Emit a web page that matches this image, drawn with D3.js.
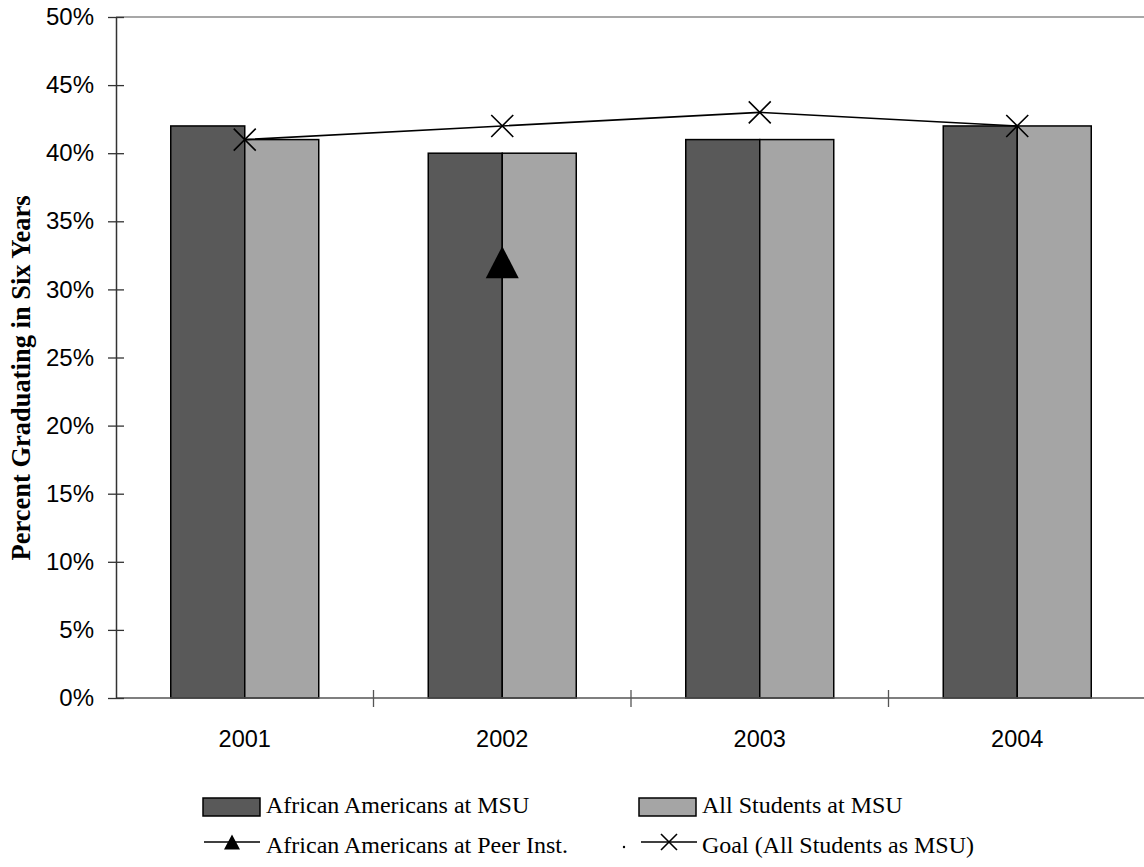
<!DOCTYPE html>
<html>
<head>
<meta charset="utf-8">
<script src="https://cdn.jsdelivr.net/npm/d3@7"></script>
<style>
  html, body { margin: 0; padding: 0; background: #fff; }
  svg { display: block; }
</style>
</head>
<body>
<svg id="chart" width="1144" height="867"></svg>
<script>
// Six-year graduation rates by entering cohort year
const years = ["2001", "2002", "2003", "2004"];
const africanAmericansMSU = [42, 40, 41, 42];
const allStudentsMSU = [41, 40, 41, 42];
const peerInstitutions = [null, 32, null, null];
const goal = [41, 42, 43, 42];
const yTicks = [0, 5, 10, 15, 20, 25, 30, 35, 40, 45, 50];

const seriesNames = {
  aa: "African Americans at MSU",
  all: "All Students at MSU",
  peer: "African Americans at Peer Inst.",
  goal: "Goal (All Students as MSU)"
};

const svg = d3.select("#chart");
const plotLeft = 116, plotRight = 1146, plotTop = 17, plotBottom = 698;

const x = d3.scaleBand().domain(years).range([plotLeft, plotRight]).padding(0);
const y = d3.scaleLinear().domain([0, 50]).range([plotBottom, plotTop]);
const barW = 74;

const darkFill = "#595959", lightFill = "#a5a5a5";

// top boundary at 50%
svg.append("line")
  .attr("x1", plotLeft).attr("x2", 1144)
  .attr("y1", y(50)).attr("y2", y(50))
  .attr("stroke", "#8a8a8a").attr("stroke-width", 1.5);

// bars
const g = svg.append("g");
years.forEach((yr, i) => {
  const cx = x(yr) + x.bandwidth() / 2;
  g.append("rect")
    .attr("x", cx - barW).attr("y", y(africanAmericansMSU[i]))
    .attr("width", barW).attr("height", y(0) - y(africanAmericansMSU[i]))
    .attr("fill", darkFill).attr("stroke", "#000").attr("stroke-width", 1.5);
  g.append("rect")
    .attr("x", cx).attr("y", y(allStudentsMSU[i]))
    .attr("width", barW).attr("height", y(0) - y(allStudentsMSU[i]))
    .attr("fill", lightFill).attr("stroke", "#000").attr("stroke-width", 1.5);
});

// x axis line and category separators
svg.append("line")
  .attr("x1", plotLeft).attr("x2", 1144)
  .attr("y1", y(0)).attr("y2", y(0))
  .attr("stroke", "#555").attr("stroke-width", 1.5);
years.slice(1).forEach(yr => {
  svg.append("line")
    .attr("x1", x(yr)).attr("x2", x(yr))
    .attr("y1", y(0) - 8).attr("y2", y(0) + 9)
    .attr("stroke", "#555").attr("stroke-width", 1.3);
});
svg.selectAll("text.xl").data(years).enter().append("text")
  .attr("class", "xl")
  .attr("x", d => x(d) + x.bandwidth() / 2)
  .attr("y", 747)
  .attr("text-anchor", "middle")
  .attr("font-family", "Liberation Sans, Arial, sans-serif")
  .attr("font-size", 23.5)
  .attr("fill", "#000")
  .text(d => d);

// y axis
const yAxis = d3.axisLeft(y).tickValues(yTicks)
  .tickFormat(d => d + "%").tickSizeInner(8).tickSizeOuter(0).tickPadding(14);
const ya = svg.append("g").attr("transform", `translate(${plotLeft},0)`).call(yAxis);
ya.select(".domain").attr("stroke", "#333").attr("stroke-width", 1.5);
ya.selectAll(".tick line").attr("x2", 8).attr("x1", -8)
  .attr("stroke", "#333").attr("stroke-width", 1.3);
ya.selectAll(".tick text")
  .attr("x", -22)
  .attr("font-family", "Liberation Sans, Arial, sans-serif")
  .attr("font-size", 24).attr("fill", "#000");

// y axis title
svg.append("text")
  .attr("transform", `translate(30,378) rotate(-90)`)
  .attr("text-anchor", "middle")
  .attr("font-family", "Liberation Serif, Times New Roman, serif")
  .attr("font-weight", "bold")
  .attr("font-size", 26.5)
  .attr("fill", "#000")
  .text("Percent Graduating in Six Years");

// goal line with x markers
const cxOf = yr => x(yr) + x.bandwidth() / 2;
const line = d3.line().defined(d => d.v != null).x(d => cxOf(d.yr)).y(d => y(d.v));
const goalPts = years.map((yr, i) => ({ yr, v: goal[i] }));
svg.append("path").datum(goalPts)
  .attr("d", line).attr("fill", "none")
  .attr("stroke", "#000").attr("stroke-width", 1.6);

function cross(sel, cx, cy, r) {
  sel.append("path")
    .attr("d", `M${cx - r},${cy - r}L${cx + r},${cy + r}M${cx - r},${cy + r}L${cx + r},${cy - r}`)
    .attr("stroke", "#000").attr("stroke-width", 1.6).attr("fill", "none");
}
function triangle(sel, cx, cy, w, h) {
  sel.append("path")
    .attr("d", `M${cx},${cy - h / 2}L${cx + w / 2},${cy + h / 2}L${cx - w / 2},${cy + h / 2}Z`)
    .attr("fill", "#000");
}
goalPts.forEach(p => cross(svg, cxOf(p.yr), y(p.v), 11));

// peer institutions series
const peerPts = years.map((yr, i) => ({ yr, v: peerInstitutions[i] }));
svg.append("path").datum(peerPts)
  .attr("d", line).attr("fill", "none")
  .attr("stroke", "#000").attr("stroke-width", 1.6);
peerPts.filter(p => p.v != null).forEach(p => triangle(svg, cxOf(p.yr), y(p.v), 33, 32));

// legend
const lf = "Liberation Serif, Times New Roman, serif";
const leg = svg.append("g");
leg.append("rect").attr("x", 203).attr("y", 798).attr("width", 57).attr("height", 18)
  .attr("fill", darkFill).attr("stroke", "#000").attr("stroke-width", 1.5);
leg.append("text").attr("x", 266).attr("y", 813).attr("font-family", lf).attr("font-size", 24)
  .text(seriesNames.aa);
leg.append("rect").attr("x", 639).attr("y", 798).attr("width", 57).attr("height", 18)
  .attr("fill", lightFill).attr("stroke", "#000").attr("stroke-width", 1.5);
leg.append("text").attr("x", 702).attr("y", 813).attr("font-family", lf).attr("font-size", 24)
  .text(seriesNames.all);

leg.append("line").attr("x1", 204).attr("x2", 260).attr("y1", 842).attr("y2", 842)
  .attr("stroke", "#000").attr("stroke-width", 1.6);
triangle(leg, 232, 842, 16, 15);
leg.append("text").attr("x", 266).attr("y", 853).attr("font-family", lf).attr("font-size", 24)
  .text(seriesNames.peer);

leg.append("circle").attr("cx", 624).attr("cy", 847).attr("r", 1.2).attr("fill", "#000");
leg.append("line").attr("x1", 641).attr("x2", 697).attr("y1", 842).attr("y2", 842)
  .attr("stroke", "#000").attr("stroke-width", 1.6);
cross(leg, 669, 842, 8);
leg.append("text").attr("x", 702).attr("y", 853).attr("font-family", lf).attr("font-size", 24)
  .text(seriesNames.goal);
</script>
</body>
</html>
